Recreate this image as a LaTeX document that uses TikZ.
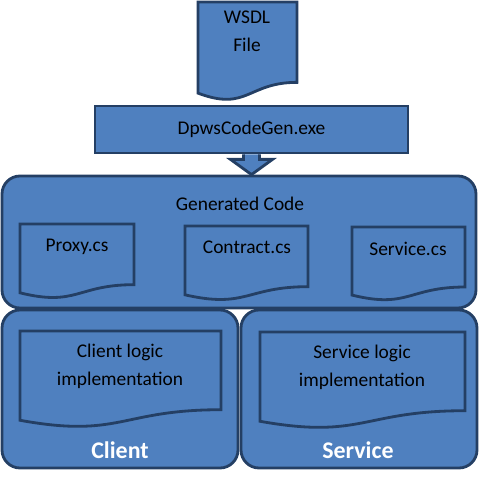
\documentclass[tikz,border=0pt]{standalone}
\usepackage{fontspec}
\setmainfont{Carlito}
\usetikzlibrary{positioning,calc}

\definecolor{fillblue}{HTML}{4F80BF}
\definecolor{lineblue}{HTML}{243F64}

\tikzset{
	box/.style={draw=lineblue, fill=fillblue, line width=2pt},
	panel/.style={box, rounded corners=0.45cm},
	txt/.style={font=\fontsize{13.8}{19.8}\selectfont, align=center, text=black},
	title/.style={font=\fontsize{17}{20}\selectfont\bfseries, text=white}
}

% document shape: left, right, top, depth
\newcommand{\wavedoc}[4]{%
	\pgfmathsetmacro\dr{#3-0.82*#4}%
	\pgfmathsetmacro\dl{#3-0.93*#4}%
	\pgfmathsetmacro\dc{#3-1.12*#4}%
	\pgfmathsetmacro\dm{(#1+#2)/2}%
	\draw[box] (#1,#3) -- (#2,#3) -- (#2,\dr) .. controls (\dm,\dr) and (\dm,\dc) .. (#1,\dl) -- cycle;
}

\begin{document}
\begin{tikzpicture}
			\useasboundingbox (0,0) rectangle (12,12.375);
			
			\wavedoc{4.95}{7.425}{12.325}{2.45}
			\node[txt] (wsdl) at (6.175,11.6) {WSDL\\File};
			
			\node[box, txt, minimum width=7.825cm, minimum height=1.175cm] (gen) at (6.2875,9.1375) {DpwsCodeGen.exe};
			
			\node[panel, minimum width=11.85cm, minimum height=3.3cm] (generated) at (5.975,6.325) {};
			\node[panel, minimum width=5.9cm, minimum height=3.95cm] (clientpanel) at (3.0,2.65) {};
			\node[panel, minimum width=5.9cm, minimum height=3.95cm] (servicepanel) at (8.975,2.65) {};
			
			\draw[box, line join=miter] ($(gen.south)+(-0.2,0)$) -- ++(0,-0.125) -- ++(-0.325,0)
				-- (gen.south |- generated.north) -- ($(gen.south)+(0.525,-0.125)$) -- ++(-0.325,0) -- ($(gen.south)+(0.2,0)$);
			
			\wavedoc{0.5}{3.35}{6.775}{1.85}
			\wavedoc{4.625}{7.7}{6.725}{1.85}
			\wavedoc{8.8}{11.625}{6.7}{1.83}
			\wavedoc{0.5}{5.525}{4.1}{2.4}
			\wavedoc{6.5}{11.625}{4.075}{2.4}
			
			\node[txt] (gencode) at (6.0,7.275) {Generated Code};
			\node[txt] (proxy) at (1.925,6.2) {Proxy.cs};
			\node[txt] (contract) at (6.175,6.2) {Contract.cs};
			\node[txt] (servicecs) at (10.2,6.15) {Service.cs};
			\node[txt] (clientlogic) at (3.0,3.225) {Client logic\\implementation};
			\node[txt] (servicelogic) at (9.05,3.19) {Service logic\\implementation};
			\node[title] (client) at (3.0,1.125) {Client};
			\node[title] (service) at (8.95,1.125) {Service};
			\end{tikzpicture}
\end{document}
